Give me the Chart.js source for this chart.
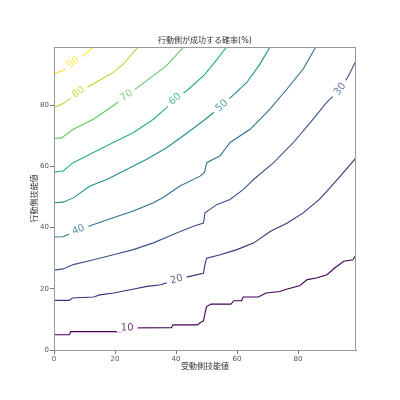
<!DOCTYPE html>
<html>
<head>
<meta charset="utf-8">
<script src="https://cdn.jsdelivr.net/npm/chart.js@4"></script>
<style>
  body { margin: 0; background: #fff; }
  canvas { display: block; }
</style>
</head>
<body>
<canvas id="c" width="400" height="400"></canvas>
<script>
const levels = [10, 20, 30, 40, 50, 60, 70, 80, 90];
const levelColors = ["#440154", "#472d7b", "#3b528b", "#2c728e", "#21918c", "#28ae80", "#5ec962", "#addc30", "#fde725"];
const xTicks = [0, 20, 40, 60, 80];
const yTicks = [0, 20, 40, 60, 80];

// contour lines, [x, y] pairs
const c10 = [[0,5],[5,5],[5.5,6],[22,6],[22.5,7.2],[38.5,7.3],[39,8.2],[47,8.2],[48,9],[49,9.5],[49.5,12],[50,14.2],[51.5,15],[58,15],[59,16.1],[61.5,16.1],[62,17.3],[67,17.3],[69.5,18.6],[74,19.1],[76.5,19.9],[80.5,21],[83,23],[86,23.5],[89.5,24.6],[92,26.8],[95,29],[98,29.5],[99,31]];
const c20 = [[0,16.2],[5,16.2],[6,17],[13,17.3],[15,18],[19.5,18.6],[25,19.7],[30.5,20.8],[35,21.3],[40,23],[45.5,24.3],[49,25.1],[49.5,28],[50,30],[54.5,31.1],[60,32.8],[65.5,35],[71,38.8],[76.5,41.5],[81.7,44.8],[87,49.2],[90,52.5],[94,57],[99,62.8]];
const c30 = [[0,26.1],[3,26.5],[6.3,27.9],[13,29.5],[19.5,31.1],[26,32.8],[32.6,35],[39,37.7],[45.7,40.4],[49,41.5],[49.5,44.8],[53.3,47.5],[57.7,49.2],[62.1,52.5],[65.4,55.7],[72,61.2],[78.5,67.8],[84,74.3],[89.4,80.9],[93.8,85.2],[96.5,89.5],[99,94.5]];
const c40 = [[0,36.9],[3,37],[8,39.3],[13,41],[19.4,43.2],[26,45.4],[32.6,48.1],[36,50],[41.3,53.6],[47.9,56.8],[49.3,58],[50.1,61.2],[52.2,62.3],[54.4,63.4],[57.7,67.8],[64.3,72.1],[70.8,78.7],[76.3,85.2],[81.7,91.8],[85.8,99]];
const c50 = [[0,48.1],[3,48.3],[6.3,49.7],[11.8,53.6],[17.3,55.7],[23.8,59],[30.4,62.3],[36.9,66.1],[42.4,70],[49,74.9],[55,79.8],[59,83.5],[63.2,87.4],[67.5,93.4],[70.8,99]];
const c60 = [[0,58.1],[3,58.5],[6.3,61.2],[12.9,64.5],[19.4,67.8],[26,71],[32.6,75.4],[36.9,79.2],[39.7,82],[43.5,84.7],[49,89.6],[52.2,93.4],[56.6,99]];
const c70 = [[0,69.1],[2.5,69.3],[6.3,72.1],[12.9,75.4],[19.4,79.8],[23.8,83.1],[30.4,88],[36.9,92.9],[42.5,99]];
const c80 = [[0,79.2],[3,80.5],[8,84.2],[13,87],[19.4,90.7],[22.7,93.4],[27.6,99]];
const c90 = [[0,90.3],[3,91.3],[6.3,94],[10,96.5],[12.9,99]];
const contours = [c10, c20, c30, c40, c50, c60, c70, c80, c90];

// where along x each inline label sits
const labelX = [24, 40.2, 93.8, 8, 55, 39.7, 23.8, 8, 6.3];

const FONT = '"DejaVu Sans", "Noto Sans CJK JP", sans-serif';

function interpY(pts, x) {
  for (let i = 1; i < pts.length; i++) {
    if (x <= pts[i][0]) {
      const [x0, y0] = pts[i - 1], [x1, y1] = pts[i];
      return y0 + (y1 - y0) * (x - x0) / (x1 - x0 || 1);
    }
  }
  return pts[pts.length - 1][1];
}

const contourLabels = {
  id: "contourLabels",
  afterDatasetsDraw(chart) {
    const { ctx, scales: { x, y } } = chart;
    ctx.save();
    ctx.font = "10px " + FONT;
    ctx.textAlign = "center";
    ctx.textBaseline = "middle";
    levels.forEach((lv, i) => {
      const pts = contours[i];
      const lx = labelX[i];
      const px = x.getPixelForValue(lx);
      const py = y.getPixelForValue(interpY(pts, lx));
      const ax = x.getPixelForValue(lx - 1.5), ay = y.getPixelForValue(interpY(pts, lx - 1.5));
      const bx = x.getPixelForValue(lx + 1.5), by = y.getPixelForValue(interpY(pts, lx + 1.5));
      const ang = Math.atan2(by - ay, bx - ax);
      const txt = String(lv);
      const w = ctx.measureText(txt).width;
      ctx.save();
      ctx.translate(px, py);
      ctx.rotate(ang);
      ctx.fillStyle = "#fff";
      ctx.fillRect(-w / 2 - 4, -4, w + 8, 8);
      ctx.fillStyle = levelColors[i];
      ctx.globalAlpha = 0.8;
      ctx.fillText(txt, 0, 0);
      ctx.restore();
    });
    ctx.restore();
  }
};

const frame = {
  id: "frame",
  afterDraw(chart) {
    const { ctx, chartArea: a } = chart;
    ctx.save();
    ctx.strokeStyle = "#999";
    ctx.lineWidth = 1;
    ctx.strokeRect(a.left + 0.5, a.top + 0.5, a.right - a.left - 1, a.bottom - a.top);
    ctx.fillStyle = "#333";
    ctx.textAlign = "center";
    ctx.textBaseline = "middle";
    ctx.font = "8px " + FONT;
    ctx.fillText("行動側が成功する確率(%)", (a.left + a.right) / 2, 41);
    ctx.fillText("受動側技能値", (a.left + a.right) / 2, 367);
    ctx.translate(35, (a.top + a.bottom) / 2);
    ctx.rotate(-Math.PI / 2);
    ctx.fillText("行動側技能値", 0, 0);
    ctx.restore();
  }
};

const datasets = levels.map((lv, i) => ({
  label: String(lv),
  data: contours[i].map(([px, py]) => ({ x: px, y: py })),
  borderColor: levelColors[i],
  borderWidth: 1.1,
  pointRadius: 0,
  fill: false,
  tension: 0
}));

const axisCommon = (ticks, fit) => ({
  type: "linear",
  min: 0,
  max: 99,
  grid: { drawOnChartArea: false, drawTicks: true, tickLength: 4, color: "#777" },
  border: { display: true, color: "#999" },
  ticks: { font: { size: 7, family: FONT }, color: "#555", padding: 1 },
  afterBuildTicks(scale) { scale.ticks = ticks.map(v => ({ value: v })); },
  afterFit: fit
});

new Chart(document.getElementById("c"), {
  type: "line",
  data: { datasets },
  options: {
    responsive: false,
    animation: false,
    layout: { padding: { top: 47, right: 44, left: 0, bottom: 0 } },
    plugins: { legend: { display: false }, tooltip: { enabled: false } },
    scales: {
      x: axisCommon(xTicks, s => { s.height = 50; }),
      y: axisCommon(yTicks, s => { s.width = 54; })
    }
  },
  plugins: [contourLabels, frame]
});
</script>
</body>
</html>
